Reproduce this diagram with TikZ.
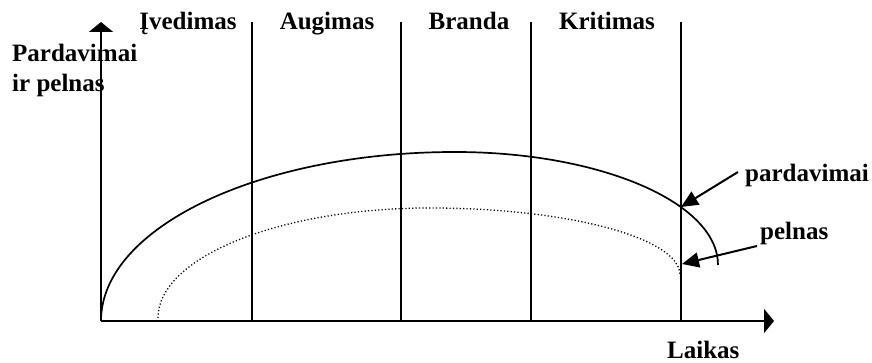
\documentclass[tikz,border=0pt]{standalone}
\usepackage{fontspec}
\setmainfont{Liberation Serif}
\usetikzlibrary{arrows.meta}
\begin{document}
\begin{tikzpicture}[x=1pt,y=1pt,
  lbl/.style={font=\fontsize{25}{30}\selectfont\bfseries, inner sep=0pt},
  axis/.style={line width=2pt, -{Triangle[length=10pt,width=24pt]}},
  phase/.style={line width=2.2pt},
  pointer/.style={line width=2pt, -{Triangle[length=17pt,width=15pt]}},
  sales/.style={line width=1.7pt},
  profit/.style={line width=1.3pt, dash pattern=on 1.2pt off 2.2pt}]
\useasboundingbox (0,0) rectangle (872,363);
% axes
\coordinate (O) at (101,42);
\coordinate (Ytop) at (101,341);
\coordinate (Xend) at (774,42);
\draw[axis] (O) -- (Ytop);
\draw[axis] (O) -- (Xend);
% phase lines
\foreach \n/\x in {a/252,b/401,c/531,d/681}{
  \coordinate (\n0) at (\x,42);
  \coordinate (\n1) at (\x,341);
  \draw[phase] (\n0) -- (\n1);
}
% sales curve
\draw[sales] (O) arc[start angle=180,end angle=90,x radius=354,y radius=169]
  arc[start angle=90,end angle=0,x radius=263,y radius=113];
% profit curve
\coordinate (P0) at (158,45);
\draw[profit] (P0) arc[start angle=180,end angle=90,x radius=272,y radius=110]
  arc[start angle=90,end angle=0,x radius=250,y radius=67];
% labels
\node[lbl, anchor=base] (l1) at (188,333) {Įvedimas};
\node[lbl, anchor=base] (l2) at (327,333) {Augimas};
\node[lbl, anchor=base] (l3) at (469,333) {Branda};
\node[lbl, anchor=base] (l4) at (607,333) {Kritimas};
\node[lbl, anchor=base west] (ya1) at (12,301) {Pardavimai};
\node[lbl, anchor=base west] (ya2) at (12,271) {ir pelnas};
\node[lbl, anchor=base west] (xa) at (667,4) {Laikas};
\node[lbl, anchor=base west] (sl) at (745,181) {pardavimai};
\node[lbl, anchor=base west] (pl) at (760,123) {pelnas};
% pointers
\coordinate (sT) at (738,191);
\coordinate (sH) at (681,156);
\coordinate (pT) at (757,117);
\coordinate (pH) at (682,99);
\draw[pointer] (sT) -- (sH);
\draw[pointer] (pT) -- (pH);
\end{tikzpicture}
\end{document}
